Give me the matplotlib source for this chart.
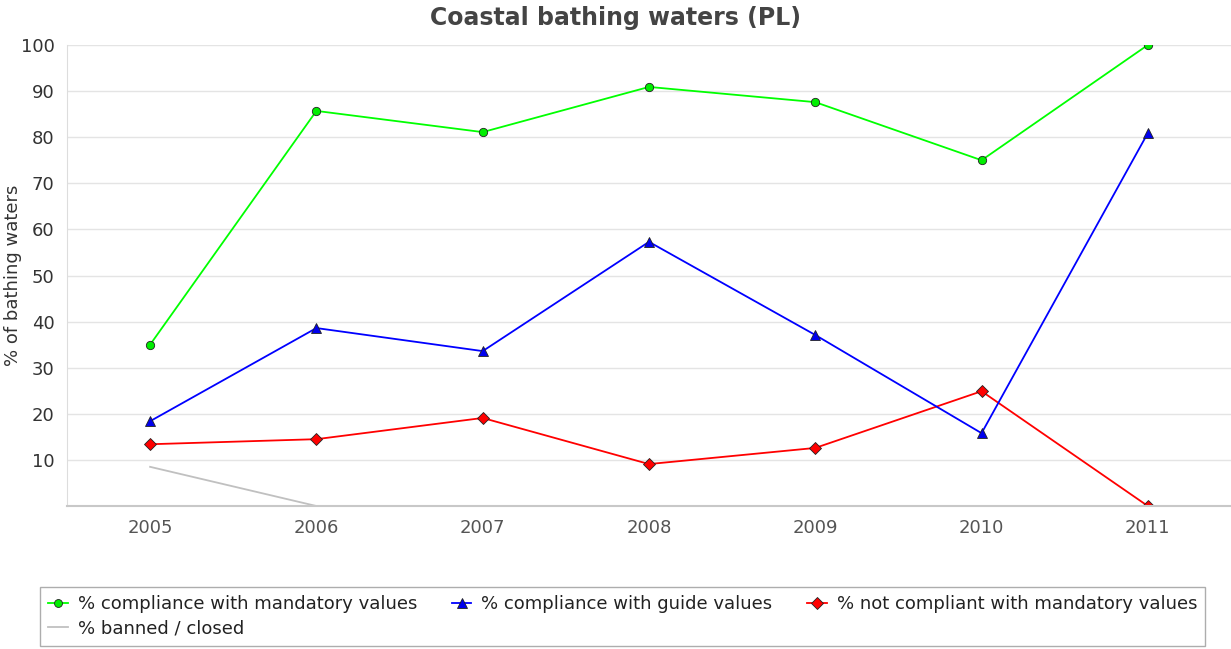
import numpy as np
import matplotlib
matplotlib.use("Agg")
import matplotlib.pyplot as plt

years = ["2005", "2006", "2007", "2008", "2009", "2010", "2011"]
mandatory = [35.0, 85.7, 81.1, 90.9, 87.6, 75.0, 100.0]
guide = [18.4, 38.6, 33.6, 57.3, 37.1, 15.8, 80.9]
not_compliant = [13.4, 14.5, 19.1, 9.1, 12.6, 24.9, 0.0]
banned = [8.5, 0.0, 0.0, 0.0, 0.0, 0.0, 0.0]
y_ticks = [10, 20, 30, 40, 50, 60, 70, 80, 90, 100]

plt.rcParams["font.family"] = "DejaVu Sans"

fig = plt.figure(figsize=(12.31, 6.49), dpi=100)
ax = fig.add_axes([0.0544, 0.2203, 0.9456, 0.7104])

x = np.arange(len(years))
h_banned, = ax.plot(x, banned, color="#c0c0c0", lw=1.3, label="% banned / closed")
h_red, = ax.plot(x, not_compliant, color="#ff0000", lw=1.3, marker="D", ms=6,
                 mfc="#ff0000", mec="#222222", mew=0.6,
                 label="% not compliant with mandatory values")
h_blue, = ax.plot(x, guide, color="#0000ff", lw=1.3, marker="^", ms=7,
                  mfc="#0000ee", mec="#222222", mew=0.6,
                  label="% compliance with guide values")
h_green, = ax.plot(x, mandatory, color="#00ff00", lw=1.3, marker="o", ms=6,
                   mfc="#00ee00", mec="#222222", mew=0.6,
                   label="% compliance with mandatory values")

ax.set_xlim(-0.5, 6.5)
ax.set_ylim(0, 100)
ax.set_xticks(x)
ax.set_xticklabels(years)
ax.set_yticks(y_ticks)
ax.yaxis.grid(True, color="#e4e4e4", lw=1)
ax.set_axisbelow(True)
ax.tick_params(axis="both", length=0, labelsize=13, colors="#555555")
ax.tick_params(axis="x", pad=9)
ax.tick_params(axis="y", labelcolor="#333333", pad=9)
for s in ["top", "right"]:
    ax.spines[s].set_visible(False)
ax.spines["left"].set_color("#dddddd")
ax.spines["bottom"].set_color("#c8c8c8")
ax.spines["bottom"].set_linewidth(1.5)
ax.set_ylabel("% of bathing waters", fontsize=13, color="#333333")
ax.yaxis.set_label_coords(-0.039, 0.5)

fig.text(0.5, 0.972, "Coastal bathing waters (PL)", ha="center", va="center",
         fontsize=17, fontweight="bold", color="#444444")

leg = fig.legend([h_green, h_banned, h_blue, h_red],
                 [h.get_label() for h in [h_green, h_banned, h_blue, h_red]],
                 ncol=3, loc="upper left", bbox_to_anchor=(0.0325, 0.0955),
                 borderaxespad=0, fontsize=13, frameon=True, fancybox=False,
                 handlelength=1.1, handletextpad=0.55, columnspacing=1.9,
                 borderpad=0.45, labelspacing=0.35, markerscale=0.95)
leg.get_frame().set_edgecolor("#999999")
leg.get_frame().set_linewidth(1.0)
for t in leg.get_texts():
    t.set_color("#222222")

fig.savefig("out.png", dpi=100)
